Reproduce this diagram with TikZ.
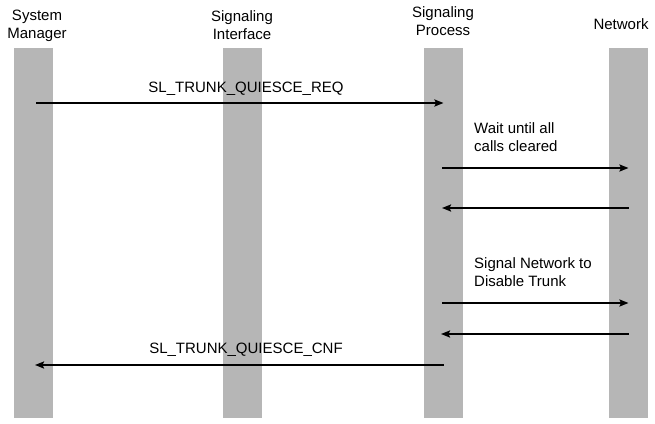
\documentclass[tikz,border=0pt]{standalone}
\usepackage{fontspec}
\setmainfont{Liberation Sans}
\usetikzlibrary{arrows.meta}
\definecolor{figTrame}{RGB}{182,182,182}

\begin{document}
\begin{tikzpicture}[
  x=1pt, y=-1pt,
  every node/.style={font=\fontsize{15}{18}\selectfont},
  lifeline/.style={fill=figTrame, draw=none, inner sep=0pt, minimum width=39pt,
                   minimum height=370pt},
  head/.style={align=center, inner sep=0pt, anchor=north},
  msg/.style={line width=2pt, -{Stealth[length=9pt, width=7pt, inset=1.5pt]}},
  lbl/.style={inner sep=0pt, anchor=base},
  note/.style={align=left, inner sep=0pt, anchor=north west}
]
\useasboundingbox (0,0) rectangle (655,423);

% ---- lignes de vie ----
\node[lifeline] (sysm) at (33.5,233) {};
\node[lifeline] (sigi) at (242,233)  {};
\node[lifeline] (sigp) at (443.5,233) {};
\node[lifeline] (netw) at (628.5,233) {};

% ---- en-tetes ----
\node[head] (hSysm) at (37,9.5)  {System\\Manager};
\node[head] (hSigi) at (242,10)  {Signaling\\Interface};
\node[head] (hSigp) at (443,6)   {Signaling\\Process};
\node[head] (hNetw) at (621,18)  {Network};

% ---- rangees des messages ----
\coordinate (r1) at (0,103);
\coordinate (r2) at (0,168);
\coordinate (r3) at (0,208);
\coordinate (r4) at (0,303);
\coordinate (r5) at (0,334);
\coordinate (r6) at (0,365);

\draw[msg] ([xshift=2.5pt]sysm.center |- r1) -- (sigp.center |- r1);
\draw[msg] ([xshift=-1.5pt]sigp.center |- r2) -- (netw.center |- r2);
\draw[msg] (netw.center |- r3) -- ([xshift=-1.5pt]sigp.center |- r3);
\draw[msg] ([xshift=-1.5pt]sigp.center |- r4) -- (netw.center |- r4);
\draw[msg] (netw.center |- r5) -- ([xshift=-2.5pt]sigp.center |- r5);
\draw[msg] (sigp.center |- r6) -- ([xshift=1.5pt]sysm.center |- r6);

% ---- libelles ----
\node[lbl] (lReq) at (246,92)  {SL\_TRUNK\_QUIESCE\_REQ};
\node[lbl] (lCnf) at (246,353) {SL\_TRUNK\_QUIESCE\_CNF};
\node[note] (nWait) at (474,122) {Wait until all\\calls cleared};
\node[note] (nSig)  at (474,257) {Signal Network to\\Disable Trunk};

\end{tikzpicture}
\end{document}
